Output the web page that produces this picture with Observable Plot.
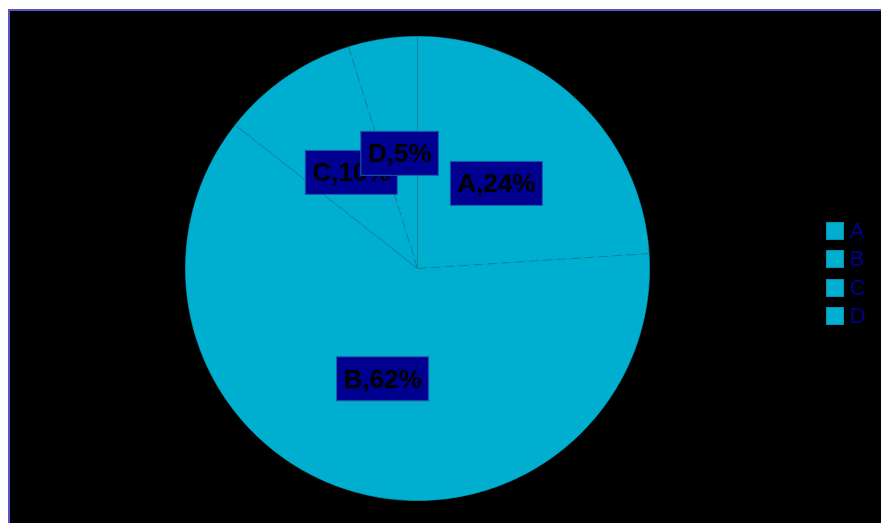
<!DOCTYPE html>
<html>
<head>
<meta charset="utf-8">
<script src="https://cdn.jsdelivr.net/npm/d3@7"></script>
<script src="https://cdn.jsdelivr.net/npm/@observablehq/plot@0.6"></script>
<style>
  html, body { margin: 0; padding: 0; background: #ffffff; }
  #wrap { position: relative; width: 881px; height: 523px; overflow: hidden; }
  #panel { position: absolute; left: 8px; top: 9px; width: 880px; height: 520px; background: #000000;
           border-left: 2px solid #5a56c4; border-top: 2px solid #5a56c4; }
  #chart { position: absolute; left: 0; top: 0; }
  #legend { position: absolute; left: 826px; top: 217px; font-family: "Liberation Sans", Arial, sans-serif; }
  .li { display: flex; align-items: center; height: 28.3px; }
  .sw { width: 18px; height: 18px; background: #00AECF; box-sizing: border-box; border: 1px solid #0a8fb0; margin-right: 6px; }
  .lt { color: #000080; font-size: 22px; line-height: 18px; }
</style>
</head>
<body>
<div id="wrap">
  <div id="panel"></div>
  <div id="chart"></div>
  <div id="legend"></div>
</div>
<script>
// Data
const categories = ["A", "B", "C", "D"];
const values = [24.0, 61.7, 9.6, 4.8];
const labels = ["A,24%", "B,62%", "C,10%", "D,5%"];

const sliceColor = "#00AECF";
const total = d3.sum(values);

// angles clockwise from 12 o'clock
let acc = 0;
const slices = categories.map((c, i) => {
  const a0 = acc / total * 2 * Math.PI;
  acc += values[i];
  const a1 = acc / total * 2 * Math.PI;
  return {cat: c, value: values[i], label: labels[i], a0, a1, mid: (a0 + a1) / 2};
});

// polygon outline points for each slice (geometry of arc)
const poly = [];
for (const s of slices) {
  poly.push({cat: s.cat, x: 0, y: 0});
  const n = Math.max(2, Math.ceil((s.a1 - s.a0) / (Math.PI / 180)));
  for (let k = 0; k <= n; k++) {
    const a = s.a0 + (s.a1 - s.a0) * k / n;
    poly.push({cat: s.cat, x: Math.sin(a), y: Math.cos(a)});
  }
}

const bounds = slices.map((s, i) => ({a: s.a0, dashed: i % 2 === 1}));

const fontSpec = "bold 26px 'Liberation Sans', Arial, sans-serif";
const ctx = document.createElement("canvas").getContext("2d");
ctx.font = fontSpec;

const labelMarks = [];
for (const s of slices) {
  const d = [{x: 0.5 * Math.sin(s.mid), y: 0.5 * Math.cos(s.mid), label: s.label}];
  const w = ctx.measureText(s.label).width + 14;
  labelMarks.push(Plot.rect(d, {
    x1: "x", x2: "x", y1: "y", y2: "y",
    insetLeft: -w / 2, insetRight: -w / 2, insetTop: -22, insetBottom: -22,
    fill: "#000090", stroke: "#1f5aa8", strokeWidth: 1
  }));
  labelMarks.push(Plot.text(d, {
    x: "x", y: "y", text: "label", fill: "#000000",
    fontSize: 26, fontWeight: "bold", fontFamily: "'Liberation Sans', Arial, sans-serif"
  }));
}

const chart = Plot.plot({
  width: 881, height: 523,
  margin: 0,
  style: {background: "transparent", overflow: "visible"},
  x: {domain: [-1, 1], range: [185, 649], axis: null},
  y: {domain: [-1, 1], range: [500, 36], axis: null},
  marks: [
    Plot.line(poly, {x: "x", y: "y", z: "cat", fill: sliceColor, stroke: sliceColor, strokeWidth: 0.6, curve: "linear-closed"}),
    Plot.link(bounds.filter(b => !b.dashed), {x1: 0, y1: 0, x2: b => Math.sin(b.a), y2: b => Math.cos(b.a), stroke: "#13809c", strokeWidth: 0.9}),
    Plot.link(bounds.filter(b => b.dashed), {x1: 0, y1: 0, x2: b => Math.sin(b.a), y2: b => Math.cos(b.a), stroke: "#13809c", strokeWidth: 1, strokeDasharray: "9,5"}),
    ...labelMarks
  ]
});
document.getElementById("chart").appendChild(chart);

const legend = document.getElementById("legend");
categories.forEach(c => {
  const row = document.createElement("div");
  row.className = "li";
  row.innerHTML = `<div class="sw"></div><span class="lt">${c}</span>`;
  legend.appendChild(row);
});
</script>
</body>
</html>
